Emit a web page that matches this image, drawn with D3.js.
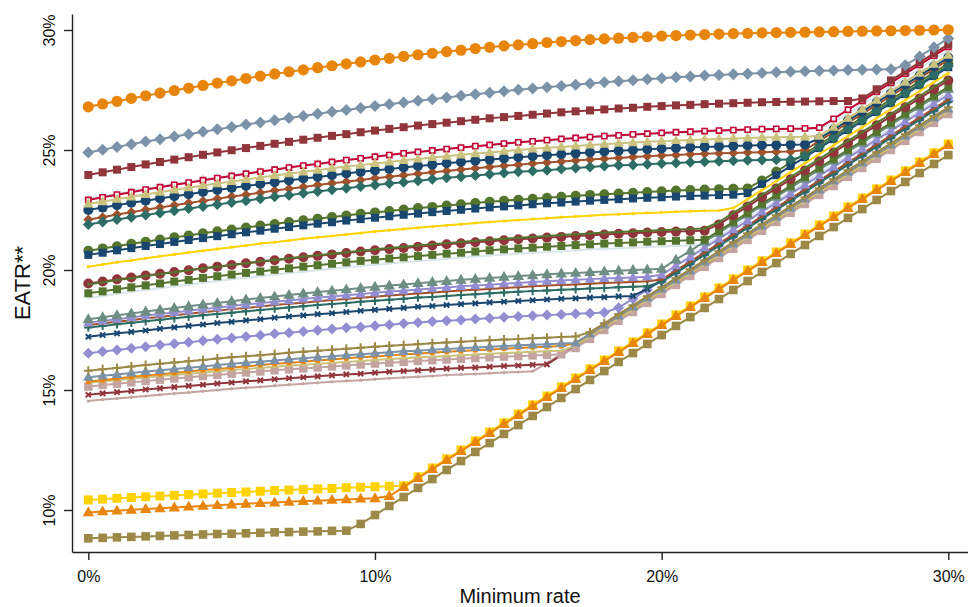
<!DOCTYPE html>
<html>
<head>
<meta charset="utf-8">
<script src="https://cdn.jsdelivr.net/npm/d3@7"></script>
<style>
  body { margin: 0; background: #fff; }
  svg text { font-family: "Liberation Sans", Arial, sans-serif; fill: #111; }
</style>
</head>
<body>
<svg id="chart" width="968" height="607"></svg>
<script>
// Minimum rate (%) on the horizontal axis
const minRate = [0,0.5,1,1.5,2,2.5,3,3.5,4,4.5,5,5.5,6,6.5,7,7.5,8,8.5,9,9.5,
  10,10.5,11,11.5,12,12.5,13,13.5,14,14.5,15,15.5,16,16.5,17,17.5,18,18.5,19,19.5,
  20,20.5,21,21.5,22,22.5,23,23.5,24,24.5,25,25.5,26,26.5,27,27.5,28,28.5,29,29.5,30];
const xTicks = [0, 10, 20, 30];
const yTicks = [10, 15, 20, 25, 30];

// EATR (%) by minimum rate, one array per jurisdiction
const eatr01 = [26.80,26.92,27.03,27.15,27.26,27.37,27.48,27.58,27.69,27.79,27.88,27.98,28.08,28.17,28.26,28.34,28.43,28.51,28.59,28.67,28.75,28.82,28.90,28.97,29.03,29.10,29.16,29.23,29.28,29.34,29.38,29.43,29.48,29.52,29.56,29.60,29.63,29.66,29.69,29.72,29.75,29.77,29.79,29.81,29.83,29.85,29.86,29.88,29.89,29.90,29.91,29.92,29.93,29.94,29.95,29.96,29.97,29.98,29.99,30.00,30.01];
const eatr02 = [24.90,25.01,25.13,25.24,25.35,25.45,25.56,25.66,25.76,25.86,25.96,26.06,26.15,26.24,26.33,26.42,26.51,26.59,26.67,26.75,26.83,26.91,26.98,27.05,27.12,27.19,27.26,27.32,27.39,27.45,27.51,27.56,27.62,27.67,27.72,27.77,27.82,27.86,27.91,27.95,27.99,28.03,28.06,28.10,28.13,28.16,28.18,28.21,28.24,28.26,28.28,28.30,28.31,28.33,28.34,28.35,28.36,28.53,28.90,29.28,29.65];
const eatr03 = [23.96,24.07,24.18,24.29,24.40,24.50,24.60,24.70,24.80,24.90,24.99,25.08,25.17,25.26,25.34,25.43,25.51,25.59,25.66,25.74,25.81,25.88,25.95,26.02,26.08,26.14,26.20,26.26,26.32,26.37,26.42,26.47,26.52,26.57,26.61,26.65,26.69,26.73,26.76,26.80,26.83,26.86,26.88,26.91,26.93,26.95,26.97,26.99,27.00,27.01,27.02,27.03,27.04,27.04,27.15,27.53,27.90,28.28,28.65,29.03,29.40];
const eatr04 = [22.92,23.03,23.14,23.24,23.35,23.45,23.55,23.64,23.74,23.83,23.92,24.01,24.10,24.18,24.27,24.35,24.42,24.50,24.58,24.65,24.72,24.79,24.86,24.92,24.98,25.04,25.10,25.16,25.21,25.27,25.32,25.36,25.41,25.46,25.50,25.54,25.58,25.61,25.65,25.68,25.71,25.74,25.76,25.79,25.81,25.83,25.85,25.87,25.88,25.89,25.90,25.93,26.30,26.68,27.05,27.43,27.80,28.18,28.55,28.93,29.30];
const eatr05 = [22.97,23.08,23.18,23.28,23.39,23.49,23.58,23.67,23.77,23.86,23.94,24.03,24.12,24.20,24.28,24.36,24.43,24.51,24.58,24.65,24.72,24.79,24.86,24.91,24.97,25.03,25.09,25.15,25.20,25.26,25.30,25.34,25.39,25.44,25.48,25.52,25.56,25.59,25.62,25.65,25.68,25.71,25.73,25.76,25.78,25.80,25.82,25.84,25.85,25.86,25.87,25.88,26.15,26.53,26.90,27.28,27.65,28.03,28.40,28.78,29.15];
const eatr06 = [22.75,22.85,22.95,23.05,23.15,23.24,23.34,23.43,23.52,23.60,23.69,23.77,23.86,23.94,24.01,24.09,24.16,24.24,24.31,24.37,24.44,24.50,24.57,24.63,24.69,24.74,24.80,24.85,24.90,24.95,25.00,25.05,25.09,25.13,25.17,25.21,25.24,25.28,25.31,25.34,25.37,25.40,25.42,25.44,25.46,25.48,25.50,25.52,25.53,25.54,25.55,25.58,25.95,26.33,26.70,27.08,27.45,27.83,28.20,28.58,28.95];
const eatr07 = [22.50,22.60,22.70,22.80,22.89,22.98,23.07,23.16,23.25,23.33,23.42,23.50,23.58,23.66,23.73,23.81,23.88,23.95,24.02,24.09,24.15,24.21,24.27,24.33,24.39,24.45,24.50,24.55,24.60,24.65,24.70,24.74,24.78,24.82,24.86,24.90,24.94,24.97,25.00,25.03,25.06,25.08,25.11,25.13,25.15,25.17,25.19,25.20,25.21,25.22,25.23,25.48,25.85,26.23,26.60,26.98,27.35,27.73,28.10,28.48,28.85];
const eatr08 = [22.10,22.20,22.31,22.41,22.51,22.60,22.70,22.79,22.88,22.97,23.06,23.14,23.22,23.31,23.39,23.46,23.54,23.61,23.68,23.75,23.82,23.89,23.95,24.01,24.07,24.13,24.19,24.24,24.29,24.34,24.39,24.44,24.48,24.52,24.56,24.60,24.64,24.67,24.71,24.74,24.77,24.79,24.82,24.84,24.86,24.88,24.90,24.91,24.93,24.94,25.00,25.38,25.75,26.13,26.50,26.88,27.25,27.63,28.00,28.38,28.75];
const eatr09 = [21.90,22.00,22.10,22.20,22.29,22.38,22.47,22.56,22.65,22.73,22.81,22.89,22.97,23.05,23.12,23.20,23.27,23.34,23.41,23.48,23.54,23.60,23.66,23.72,23.78,23.84,23.89,23.94,23.99,24.04,24.09,24.13,24.16,24.21,24.25,24.29,24.33,24.36,24.38,24.41,24.44,24.46,24.49,24.51,24.53,24.55,24.57,24.58,24.59,24.60,24.75,25.13,25.50,25.88,26.25,26.63,27.00,27.38,27.75,28.13,28.50];
const eatr10 = [20.80,20.90,20.99,21.09,21.18,21.27,21.36,21.44,21.53,21.61,21.69,21.77,21.85,21.92,22.00,22.07,22.14,22.21,22.27,22.34,22.40,22.46,22.52,22.58,22.63,22.69,22.74,22.79,22.84,22.89,22.93,22.97,23.01,23.05,23.09,23.13,23.16,23.19,23.22,23.25,23.28,23.31,23.33,23.35,23.37,23.39,23.40,23.73,24.10,24.48,24.85,25.23,25.60,25.98,26.35,26.73,27.10,27.48,27.85,28.23,28.60];
const eatr11 = [20.63,20.72,20.82,20.91,21.00,21.08,21.17,21.25,21.33,21.41,21.49,21.57,21.64,21.72,21.79,21.86,21.93,21.99,22.06,22.12,22.18,22.24,22.30,22.35,22.41,22.46,22.51,22.56,22.61,22.65,22.69,22.74,22.78,22.81,22.85,22.89,22.92,22.95,22.98,23.01,23.03,23.06,23.08,23.10,23.12,23.14,23.20,23.58,23.95,24.33,24.70,25.08,25.45,25.83,26.20,26.58,26.95,27.33,27.70,28.08,28.45];
const eatr12 = [20.14,20.23,20.32,20.40,20.49,20.57,20.65,20.73,20.80,20.88,20.95,21.02,21.10,21.16,21.23,21.30,21.36,21.42,21.48,21.54,21.60,21.66,21.71,21.76,21.81,21.86,21.91,21.96,22.00,22.04,22.08,22.12,22.16,22.20,22.23,22.26,22.30,22.32,22.35,22.38,22.40,22.43,22.45,22.47,22.48,22.58,22.95,23.33,23.70,24.08,24.45,24.83,25.20,25.58,25.95,26.33,26.70,27.08,27.45,27.83,28.20];
const eatr13 = [19.44,19.52,19.61,19.69,19.77,19.84,19.92,19.99,20.07,20.14,20.21,20.28,20.34,20.41,20.47,20.53,20.59,20.65,20.71,20.77,20.82,20.87,20.92,20.97,21.02,21.07,21.11,21.16,21.20,21.24,21.28,21.31,21.35,21.38,21.42,21.45,21.48,21.51,21.53,21.56,21.58,21.60,21.62,21.64,21.90,22.28,22.65,23.03,23.40,23.78,24.15,24.53,24.90,25.28,25.65,26.03,26.40,26.78,27.15,27.53,27.90];
const eatr14 = [19.40,19.49,19.58,19.66,19.75,19.83,19.91,19.99,20.06,20.14,20.21,20.28,20.36,20.42,20.49,20.56,20.62,20.68,20.74,20.80,20.86,20.92,20.97,21.02,21.07,21.12,21.17,21.22,21.26,21.30,21.34,21.38,21.42,21.46,21.49,21.52,21.56,21.58,21.61,21.64,21.66,21.69,21.71,21.73,22.00,22.38,22.75,23.13,23.50,23.88,24.25,24.63,25.00,25.38,25.75,26.13,26.50,26.88,27.25,27.63,28.00];
const eatr15 = [19.03,19.11,19.20,19.28,19.36,19.44,19.52,19.59,19.67,19.74,19.81,19.88,19.94,20.01,20.07,20.14,20.20,20.26,20.32,20.38,20.43,20.48,20.53,20.58,20.63,20.68,20.72,20.77,20.82,20.86,20.90,20.93,20.97,21.00,21.04,21.07,21.10,21.13,21.15,21.18,21.20,21.22,21.24,21.26,21.63,22.01,22.38,22.76,23.13,23.51,23.88,24.26,24.63,25.01,25.38,25.76,26.13,26.51,26.88,27.26,27.63];
const eatr16 = [18.84,18.92,19.01,19.09,19.17,19.24,19.32,19.39,19.47,19.54,19.61,19.68,19.74,19.81,19.87,19.93,19.99,20.05,20.11,20.17,20.22,20.27,20.32,20.37,20.42,20.47,20.51,20.56,20.60,20.64,20.68,20.71,20.75,20.78,20.82,20.85,20.88,20.91,20.93,20.96,20.98,21.00,21.02,21.04,21.40,21.78,22.15,22.53,22.90,23.28,23.65,24.03,24.40,24.78,25.15,25.53,25.90,26.28,26.65,27.03,27.40];
const eatr17 = [17.95,18.03,18.11,18.19,18.27,18.34,18.42,18.49,18.56,18.63,18.70,18.77,18.83,18.90,18.96,19.02,19.08,19.14,19.19,19.25,19.30,19.35,19.40,19.45,19.50,19.54,19.59,19.63,19.67,19.71,19.75,19.78,19.82,19.85,19.88,19.91,19.94,19.97,20.00,20.02,20.05,20.43,20.80,21.18,21.55,21.93,22.30,22.68,23.05,23.43,23.80,24.18,24.55,24.93,25.30,25.68,26.05,26.43,26.80,27.18,27.55];
const eatr18 = [17.80,17.88,17.95,18.02,18.10,18.17,18.23,18.30,18.37,18.43,18.50,18.56,18.62,18.68,18.73,18.79,18.85,18.90,18.95,19.00,19.05,19.10,19.14,19.19,19.23,19.27,19.32,19.35,19.39,19.43,19.46,19.50,19.53,19.56,19.59,19.62,19.65,19.67,19.69,19.72,19.80,20.18,20.55,20.93,21.30,21.68,22.05,22.43,22.80,23.18,23.55,23.93,24.30,24.68,25.05,25.43,25.80,26.18,26.55,26.93,27.30];
const eatr19 = [17.70,17.78,17.84,17.91,17.99,18.04,18.11,18.18,18.24,18.30,18.37,18.42,18.48,18.54,18.59,18.64,18.70,18.75,18.79,18.84,18.89,18.94,18.98,19.02,19.06,19.10,19.15,19.18,19.21,19.25,19.28,19.32,19.35,19.38,19.40,19.43,19.46,19.48,19.50,19.53,19.60,19.98,20.35,20.73,21.10,21.48,21.85,22.23,22.60,22.98,23.35,23.73,24.10,24.48,24.85,25.23,25.60,25.98,26.35,26.73,27.10];
const eatr20 = [17.60,17.67,17.74,17.80,17.86,17.93,17.99,18.05,18.11,18.17,18.22,18.28,18.33,18.39,18.44,18.49,18.54,18.58,18.63,18.68,18.72,18.76,18.80,18.85,18.88,18.92,18.96,18.99,19.03,19.06,19.09,19.12,19.15,19.18,19.20,19.23,19.25,19.28,19.30,19.32,19.50,19.88,20.25,20.63,21.00,21.38,21.75,22.13,22.50,22.88,23.25,23.63,24.00,24.38,24.75,25.13,25.50,25.88,26.25,26.63,27.00];
const eatr21 = [17.22,17.29,17.36,17.42,17.48,17.55,17.61,17.67,17.73,17.79,17.84,17.90,17.95,18.01,18.06,18.11,18.16,18.20,18.25,18.30,18.34,18.38,18.42,18.47,18.50,18.54,18.58,18.61,18.65,18.68,18.71,18.74,18.77,18.80,18.82,18.85,18.87,18.90,18.92,19.21,19.58,19.96,20.33,20.71,21.08,21.46,21.83,22.21,22.58,22.96,23.33,23.71,24.08,24.46,24.83,25.21,25.58,25.96,26.33,26.71,27.08];
const eatr22 = [16.53,16.60,16.67,16.74,16.80,16.87,16.93,16.99,17.05,17.11,17.17,17.23,17.28,17.34,17.39,17.44,17.49,17.54,17.59,17.63,17.68,17.72,17.77,17.81,17.85,17.89,17.92,17.96,17.99,18.03,18.06,18.09,18.12,18.15,18.18,18.20,18.23,18.43,18.80,19.18,19.55,19.93,20.30,20.68,21.05,21.43,21.80,22.18,22.55,22.93,23.30,23.68,24.05,24.43,24.80,25.18,25.55,25.93,26.30,26.68,27.05];
const eatr23 = [15.80,15.86,15.92,15.98,16.04,16.09,16.15,16.20,16.25,16.31,16.36,16.41,16.45,16.50,16.55,16.59,16.64,16.68,16.72,16.76,16.80,16.84,16.88,16.91,16.95,16.98,17.01,17.04,17.07,17.10,17.13,17.16,17.18,17.21,17.23,17.41,17.78,18.16,18.53,18.91,19.28,19.66,20.03,20.41,20.78,21.16,21.53,21.91,22.28,22.66,23.03,23.41,23.78,24.16,24.53,24.91,25.28,25.66,26.03,26.41,26.78];
const eatr24 = [15.53,15.59,15.65,15.71,15.77,15.82,15.88,15.93,15.98,16.04,16.09,16.14,16.18,16.23,16.28,16.32,16.37,16.41,16.45,16.49,16.53,16.57,16.61,16.64,16.68,16.71,16.74,16.77,16.80,16.83,16.86,16.89,16.91,16.94,16.96,17.34,17.71,18.09,18.46,18.84,19.21,19.59,19.96,20.34,20.71,21.09,21.46,21.84,22.21,22.59,22.96,23.34,23.71,24.09,24.46,24.84,25.21,25.59,25.96,26.34,26.71];
const eatr25 = [15.35,15.41,15.48,15.54,15.60,15.66,15.71,15.77,15.83,15.88,15.93,15.99,16.04,16.09,16.13,16.18,16.23,16.27,16.32,16.36,16.40,16.44,16.48,16.52,16.55,16.59,16.62,16.66,16.69,16.72,16.75,16.78,16.80,16.83,16.95,17.33,17.70,18.08,18.45,18.83,19.20,19.58,19.95,20.33,20.70,21.08,21.45,21.83,22.20,22.58,22.95,23.33,23.70,24.08,24.45,24.83,25.20,25.58,25.95,26.33,26.70];
const eatr26 = [15.30,15.36,15.41,15.47,15.52,15.58,15.63,15.68,15.73,15.78,15.83,15.88,15.92,15.97,16.01,16.05,16.09,16.13,16.17,16.21,16.25,16.29,16.32,16.36,16.39,16.42,16.45,16.48,16.51,16.54,16.56,16.59,16.61,16.64,16.85,17.23,17.60,17.98,18.35,18.73,19.10,19.48,19.85,20.23,20.60,20.98,21.35,21.73,22.10,22.48,22.85,23.23,23.60,23.98,24.35,24.73,25.10,25.48,25.85,26.23,26.60];
const eatr27 = [15.14,15.21,15.26,15.32,15.37,15.43,15.48,15.53,15.58,15.63,15.68,15.73,15.77,15.82,15.86,15.90,15.94,15.98,16.02,16.06,16.10,16.14,16.17,16.21,16.24,16.27,16.30,16.33,16.36,16.39,16.41,16.44,16.46,16.49,16.75,17.13,17.50,17.88,18.25,18.63,19.00,19.38,19.75,20.13,20.50,20.88,21.25,21.63,22.00,22.38,22.75,23.13,23.50,23.88,24.25,24.63,25.00,25.38,25.75,26.13,26.50];
const eatr28 = [14.80,14.86,14.91,14.96,15.02,15.07,15.12,15.17,15.22,15.27,15.31,15.36,15.40,15.45,15.49,15.53,15.57,15.61,15.65,15.68,15.72,15.76,15.79,15.82,15.85,15.89,15.92,15.94,15.97,16.00,16.02,16.05,16.07,16.45,16.82,17.20,17.57,17.95,18.32,18.70,19.07,19.45,19.82,20.20,20.57,20.95,21.32,21.70,22.07,22.45,22.82,23.20,23.57,23.95,24.32,24.70,25.07,25.45,25.82,26.20,26.57];
const eatr29 = [14.54,14.60,14.65,14.70,14.75,14.80,14.85,14.90,14.95,15.00,15.05,15.09,15.13,15.18,15.22,15.26,15.30,15.34,15.38,15.41,15.45,15.49,15.52,15.55,15.58,15.62,15.65,15.67,15.70,15.73,15.75,15.78,16.12,16.50,16.87,17.25,17.62,18.00,18.37,18.75,19.12,19.50,19.87,20.25,20.62,21.00,21.37,21.75,22.12,22.50,22.87,23.25,23.62,24.00,24.37,24.75,25.12,25.50,25.87,26.25,26.62];
const eatr30 = [10.42,10.45,10.49,10.52,10.55,10.58,10.61,10.64,10.67,10.70,10.73,10.75,10.78,10.81,10.83,10.86,10.88,10.90,10.93,10.95,10.97,10.99,11.01,11.38,11.75,12.13,12.50,12.88,13.25,13.63,14.00,14.38,14.75,15.13,15.50,15.88,16.25,16.63,17.00,17.38,17.75,18.13,18.50,18.88,19.25,19.63,20.00,20.38,20.75,21.13,21.50,21.88,22.25,22.63,23.00,23.38,23.75,24.13,24.50,24.88,25.25];
const eatr31 = [9.90,9.94,9.97,10.01,10.04,10.07,10.10,10.14,10.17,10.20,10.23,10.26,10.29,10.31,10.34,10.37,10.39,10.42,10.44,10.47,10.49,10.58,10.95,11.33,11.70,12.08,12.45,12.83,13.20,13.58,13.95,14.33,14.70,15.08,15.45,15.83,16.20,16.58,16.95,17.33,17.70,18.08,18.45,18.83,19.20,19.58,19.95,20.33,20.70,21.08,21.45,21.83,22.20,22.58,22.95,23.33,23.70,24.08,24.45,24.83,25.20];
const eatr32 = [8.82,8.84,8.86,8.88,8.90,8.92,8.94,8.96,8.98,9.00,9.01,9.03,9.05,9.07,9.08,9.10,9.11,9.13,9.14,9.42,9.79,10.17,10.54,10.92,11.29,11.67,12.04,12.42,12.79,13.17,13.54,13.92,14.29,14.67,15.04,15.42,15.79,16.17,16.54,16.92,17.29,17.67,18.04,18.42,18.79,19.17,19.54,19.92,20.29,20.67,21.04,21.42,21.79,22.17,22.54,22.92,23.29,23.67,24.04,24.42,24.79];

// Stata s2color palette
const C = {
  navy: "#1a476f", maroon: "#90353b", forest: "#55752f", dkorange: "#e8850c",
  teal: "#6e8e84", cranberry: "#c10534", lavender: "#938dd2", khaki: "#cac27e",
  sienna: "#a0522d", emidblue: "#7b92a8", emerald: "#2d6d66", brown: "#9c8847",
  erose: "#c4a4a0", gold: "#ffd200", bluishgray: "#d9e6eb"
};

// Plot styles, in drawing order (later ones sit on top)
const layers = [
  { v: eatr16, color: C.bluishgray, sym: "dot",      r: 1.4 },
  { v: eatr29, color: C.erose,      sym: "dot",      r: 1.6 },
  { v: eatr28, color: C.maroon,     sym: "x",        r: 2.6 },
  { v: eatr27, color: C.erose,      sym: "square",   r: 4.2 },
  { v: eatr26, color: C.khaki,      sym: "dot",      r: 1.6 },
  { v: eatr25, color: C.dkorange,   sym: "square",   r: 2.4 },
  { v: eatr24, color: C.emidblue,   sym: "triangle", r: 5.5 },
  { v: eatr23, color: C.brown,      sym: "plus",     r: 4.5 },
  { v: eatr22, color: C.lavender,   sym: "diamond",  r: 5.5 },
  { v: eatr21, color: C.navy,       sym: "x",        r: 2.6 },
  { v: eatr20, color: C.emerald,    sym: "plus",     r: 4.2 },
  { v: eatr19, color: C.sienna,     sym: "dot",      r: 1.6 },
  { v: eatr18, color: C.lavender,   sym: "triangle", r: 5.5 },
  { v: eatr17, color: C.teal,       sym: "triangle", r: 6 },
  { v: eatr15, color: C.forest,     sym: "square",   r: 4 },
  { v: eatr13, color: C.maroon,     sym: "circle",   r: 5 },
  { v: eatr14, color: C.forest,     sym: "dot",      r: 1.4 },
  { v: eatr10, color: C.forest,     sym: "circle",   r: 5 },
  { v: eatr11, color: C.navy,       sym: "square",   r: 4 },
  { v: eatr12, color: C.gold,       sym: "dot",      r: 1.6 },
  { v: eatr08, color: C.sienna,     sym: "diamond",  r: 5 },
  { v: eatr09, color: C.emerald,    sym: "diamond",  r: 5.5 },
  { v: eatr05, color: C.bluishgray, sym: "plus",     r: 4.5 },
  { v: eatr04, color: C.cranberry,  sym: "hsquare",  r: 2.6 },
  { v: eatr07, color: C.navy,       sym: "circle",   r: 5 },
  { v: eatr06, color: C.khaki,      sym: "triangle", r: 5.5 },
  { v: eatr03, color: C.maroon,     sym: "square",   r: 4 },
  { v: eatr02, color: C.emidblue,   sym: "diamond",  r: 6 },
  { v: eatr01, color: C.dkorange,   sym: "circle",   r: 5.6 },
  { v: eatr32, color: C.brown,      sym: "square",   r: 4.3 },
  { v: eatr30, color: C.gold,       sym: "square",   r: 4.5 },
  { v: eatr31, color: C.dkorange,   sym: "triangle", r: 6 }
];

const svg = d3.select("#chart");
const x = d3.scaleLinear().domain([-0.569, 30.687]).range([72, 968]);
const y = d3.scaleLinear().domain([8.25, 30.667]).range([552, 14]);

function markerPath(sym, r) {
  switch (sym) {
    case "circle": case "dot":
      return `M${-r},0A${r},${r} 0 1,0 ${r},0A${r},${r} 0 1,0 ${-r},0Z`;
    case "square": case "hsquare":
      return `M${-r},${-r}H${r}V${r}H${-r}Z`;
    case "diamond":
      return `M0,${-r}L${r},0L0,${r}L${-r},0Z`;
    case "triangle":
      return `M0,${-r}L${r * 0.95},${r * 0.65}L${-r * 0.95},${r * 0.65}Z`;
    case "plus":
      return `M${-r},0H${r}M0,${-r}V${r}`;
    case "x":
      return `M${-r},${-r}L${r},${r}M${-r},${r}L${r},${-r}`;
  }
}

const line = d3.line().x((d, i) => x(minRate[i])).y(d => y(d));
const plot = svg.append("g");

layers.forEach(s => {
  const g = plot.append("g");
  g.append("path").datum(s.v)
    .attr("d", line).attr("fill", "none")
    .attr("stroke", s.color).attr("stroke-width", 2)
    .attr("stroke-linejoin", "round");
  const stroked = s.sym === "plus" || s.sym === "x" || s.sym === "hsquare";
  g.selectAll("path.m").data(s.v).join("path")
    .attr("class", "m")
    .attr("transform", (d, i) => `translate(${x(minRate[i])},${y(d)})`)
    .attr("d", markerPath(s.sym, s.r))
    .attr("fill", stroked ? (s.sym === "hsquare" ? "#fff" : "none") : s.color)
    .attr("stroke", stroked ? s.color : "none")
    .attr("stroke-width", stroked ? (s.sym === "hsquare" ? 1.6 : 2) : 0);
});

// Axes
const yAxis = svg.append("g").attr("transform", "translate(72,0)")
  .call(d3.axisLeft(y).tickValues(yTicks).tickFormat(d => d + "%")
    .tickSize(8).tickSizeOuter(0));
yAxis.selectAll(".tick text")
  .attr("transform", "rotate(-90)")
  .attr("x", 0).attr("y", -17).attr("dy", 0)
  .attr("text-anchor", "middle").style("font-size", "16px");

const xAxis = svg.append("g").attr("transform", "translate(0,552)")
  .call(d3.axisBottom(x).tickValues(xTicks).tickFormat(d => d + "%")
    .tickSize(8).tickSizeOuter(0).tickPadding(11));
xAxis.selectAll(".tick text").style("font-size", "16px");

svg.selectAll(".domain, .tick line").attr("stroke", "#222").attr("stroke-width", 1.4);

svg.append("text").attr("x", 520).attr("y", 603)
  .attr("text-anchor", "middle").style("font-size", "20px").text("Minimum rate");
svg.append("text").attr("transform", "translate(30,283) rotate(-90)")
  .attr("text-anchor", "middle").style("font-size", "22px").text("EATR**");
</script>
</body>
</html>
